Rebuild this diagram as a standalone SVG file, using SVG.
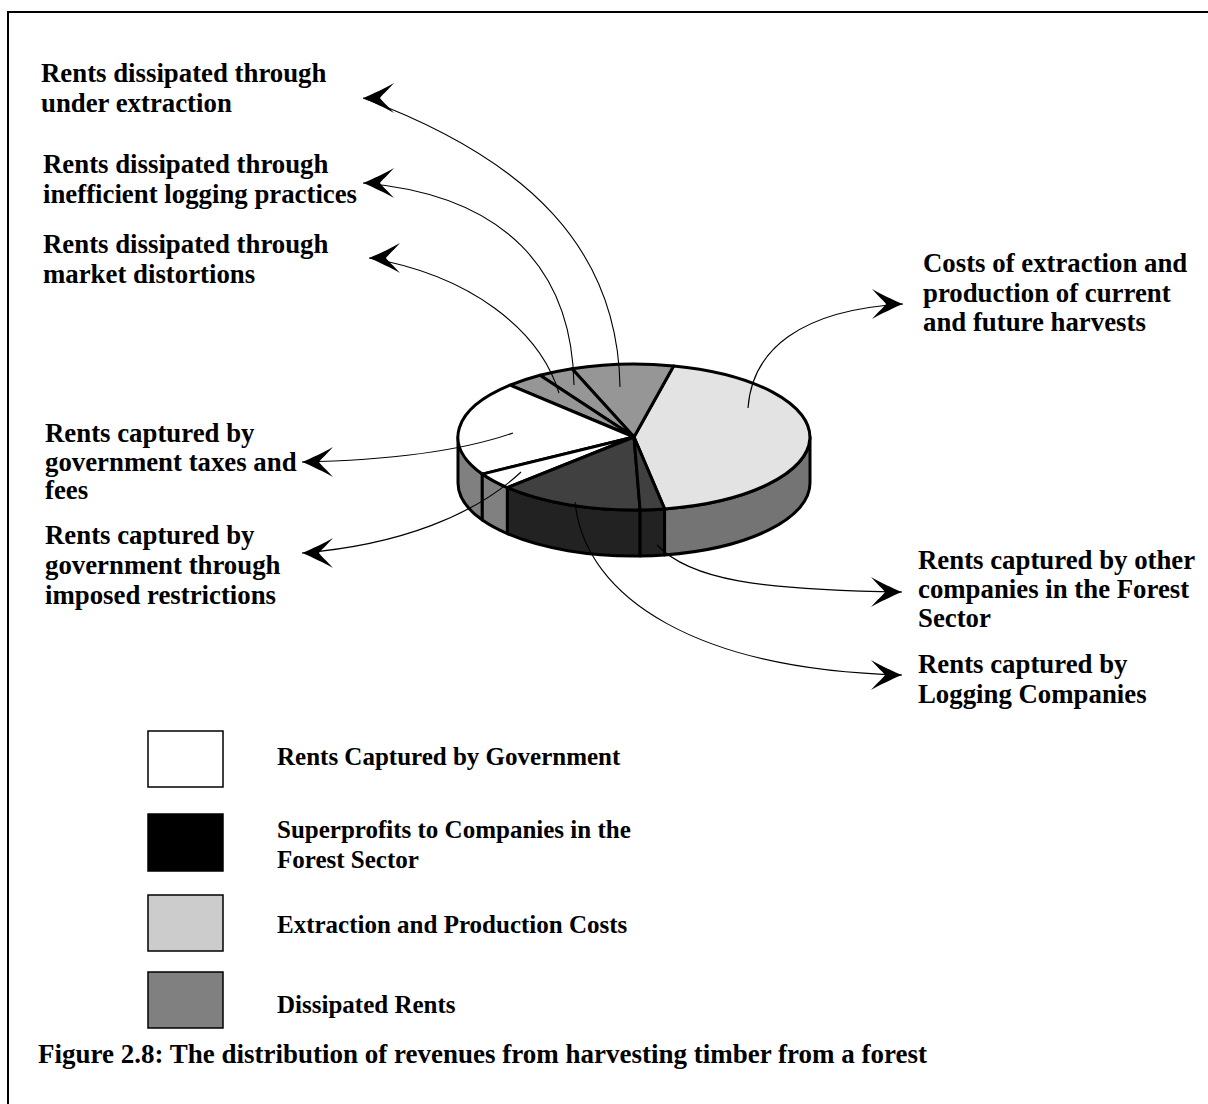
<svg xmlns="http://www.w3.org/2000/svg" width="1208" height="1104" viewBox="0 0 1208 1104">
<style>
text{font-family:"Liberation Serif","Times New Roman",serif;font-weight:bold;fill:#000}
.lbl{font-size:26.8px}
.leg{font-size:25px}
.cap{font-size:27px}
.sl{stroke:#000;stroke-width:3;stroke-linejoin:round}
.lead{fill:none;stroke:#000;stroke-width:1.1}
.box{stroke:#000;stroke-width:1.5}
</style>
<defs>
<marker id="arrL" markerUnits="userSpaceOnUse" viewBox="-1 -16 34 32" markerWidth="34" markerHeight="32" refX="0" refY="0" orient="0">
<path d="M0,0 C10,-4 22,-10 31,-15 C24,-7 19,-3 17,0 C19,3 24,7 31,15 C22,10 10,4 0,0 Z" fill="#000"/>
</marker>
<marker id="arrR" markerUnits="userSpaceOnUse" viewBox="-33 -16 34 32" markerWidth="34" markerHeight="32" refX="0" refY="0" orient="0">
<path d="M0,0 C-10,-4 -22,-10 -31,-15 C-24,-7 -19,-3 -17,0 C-19,3 -24,7 -31,15 C-22,10 -10,4 0,0 Z" fill="#000"/>
</marker>
</defs>
<rect x="0" y="0" width="1208" height="1104" fill="#fff"/>
<rect id="frame" x="8" y="12" width="1210" height="1110" fill="none" stroke="#000" stroke-width="2"/>

<g id="pie">
<g id="sides">
<path class="sl" fill="#808080" d="M458,437 A176,73 0 0,0 482.3,474.1 L482.3,520.1 A176,73 0 0,1 458,483 Z"/>
<path class="sl" fill="#808080" d="M482.3,474.1 A176,73 0 0,0 507.4,487.7 L507.4,533.7 A176,73 0 0,1 482.3,520.1 Z"/>
<path class="sl" fill="#222" d="M507.4,487.7 A176,73 0 0,0 640.1,510 L640.1,556 A176,73 0 0,1 507.4,533.7 Z"/>
<path class="sl" fill="#222" d="M640.1,510 A176,73 0 0,0 664.6,508.9 L664.6,554.9 A176,73 0 0,1 640.1,556 Z"/>
<path class="sl" fill="#747474" d="M664.6,508.9 A176,73 0 0,0 810,437 L810,483 A176,73 0 0,1 664.6,554.9 Z"/>
</g>
<g id="slice-costs"><path class="sl" fill="#e3e3e3" d="M634,437 L664.6,508.9 A176,73 0 0,0 673.6,365.9 Z"/></g>
<g id="slice-under-extraction"><path class="sl" fill="#969696" d="M634,437 L673.6,365.9 A176,73 0 0,0 572,368.7 Z"/></g>
<g id="slice-inefficient"><path class="sl" fill="#969696" d="M634,437 L572,368.7 A176,73 0 0,0 540,375.3 Z"/></g>
<g id="slice-market"><path class="sl" fill="#969696" d="M634,437 L540,375.3 A176,73 0 0,0 510,385.2 Z"/></g>
<g id="slice-taxes"><path class="sl" fill="#fff" d="M634,437 L510,385.2 A176,73 0 0,0 482.3,474.1 Z"/></g>
<g id="slice-restrictions"><path class="sl" fill="#fff" d="M634,437 L482.3,474.1 A176,73 0 0,0 507.4,487.7 Z"/></g>
<g id="slice-logging"><path class="sl" fill="#404040" d="M634,437 L507.4,487.7 A176,73 0 0,0 640.1,510 Z"/></g>
<g id="slice-other"><path class="sl" fill="#404040" d="M634,437 L640.1,510 A176,73 0 0,0 664.6,508.9 Z"/></g>
</g>

<g id="connectors">
<path class="lead" marker-end="url(#arrL)" d="M620,387 C618,250 530,160 363,98"/>
<path class="lead" marker-end="url(#arrL)" d="M574,385 C572,270 505,195 363,183"/>
<path class="lead" marker-end="url(#arrL)" d="M559,393 C540,330 470,275 369,258"/>
<path class="lead" marker-end="url(#arrR)" d="M748,408 C752,350 800,310 903,304"/>
<path class="lead" marker-end="url(#arrL)" d="M513,433 C470,448 400,460 302,462"/>
<path class="lead" marker-end="url(#arrL)" d="M521,472 C475,515 400,545 302,553"/>
<path class="lead" marker-end="url(#arrR)" d="M657,545 C690,580 760,590 902,592"/>
<path class="lead" marker-end="url(#arrR)" d="M575,502 C585,600 700,670 902,675"/>
</g>

<g id="label-under-extraction"><text class="lbl" x="41" y="82">Rents dissipated through</text><text class="lbl" x="41" y="112">under extraction</text></g>
<g id="label-inefficient"><text class="lbl" x="43" y="173">Rents dissipated through</text><text class="lbl" x="43" y="203">inefficient logging practices</text></g>
<g id="label-market"><text class="lbl" x="43" y="253">Rents dissipated through</text><text class="lbl" x="43" y="283">market distortions</text></g>
<g id="label-taxes"><text class="lbl" x="45" y="442">Rents captured by</text><text class="lbl" x="45" y="471">government taxes and</text><text class="lbl" x="45" y="499">fees</text></g>
<g id="label-restrictions"><text class="lbl" x="45" y="544">Rents captured by</text><text class="lbl" x="45" y="574">government through</text><text class="lbl" x="45" y="604">imposed restrictions</text></g>
<g id="label-costs"><text class="lbl" x="923" y="272">Costs of extraction and</text><text class="lbl" x="923" y="302">production of current</text><text class="lbl" x="923" y="331">and future harvests</text></g>
<g id="label-other"><text class="lbl" x="918" y="569">Rents captured by other</text><text class="lbl" x="918" y="598">companies in the Forest</text><text class="lbl" x="918" y="627">Sector</text></g>
<g id="label-logging"><text class="lbl" x="918" y="673">Rents captured by</text><text class="lbl" x="918" y="703">Logging Companies</text></g>

<g id="legend">
<g id="legend-gov"><rect class="box" x="148" y="731" width="75" height="56" fill="#fff"/><text class="leg" x="277" y="765">Rents Captured by Government</text></g>
<g id="legend-super"><rect class="box" x="148" y="814" width="75" height="57" fill="#000"/><text class="leg" x="277" y="838">Superprofits to Companies in the</text><text class="leg" x="277" y="868">Forest Sector</text></g>
<g id="legend-costs"><rect class="box" x="148" y="895" width="75" height="56" fill="#ccc"/><text class="leg" x="277" y="933">Extraction and Production Costs</text></g>
<g id="legend-dissipated"><rect class="box" x="148" y="972" width="75" height="56" fill="#808080"/><text class="leg" x="277" y="1013">Dissipated Rents</text></g>
</g>

<g id="caption"><text class="cap" x="38" y="1063">Figure 2.8: The distribution of revenues from harvesting timber from a forest</text></g>
</svg>
